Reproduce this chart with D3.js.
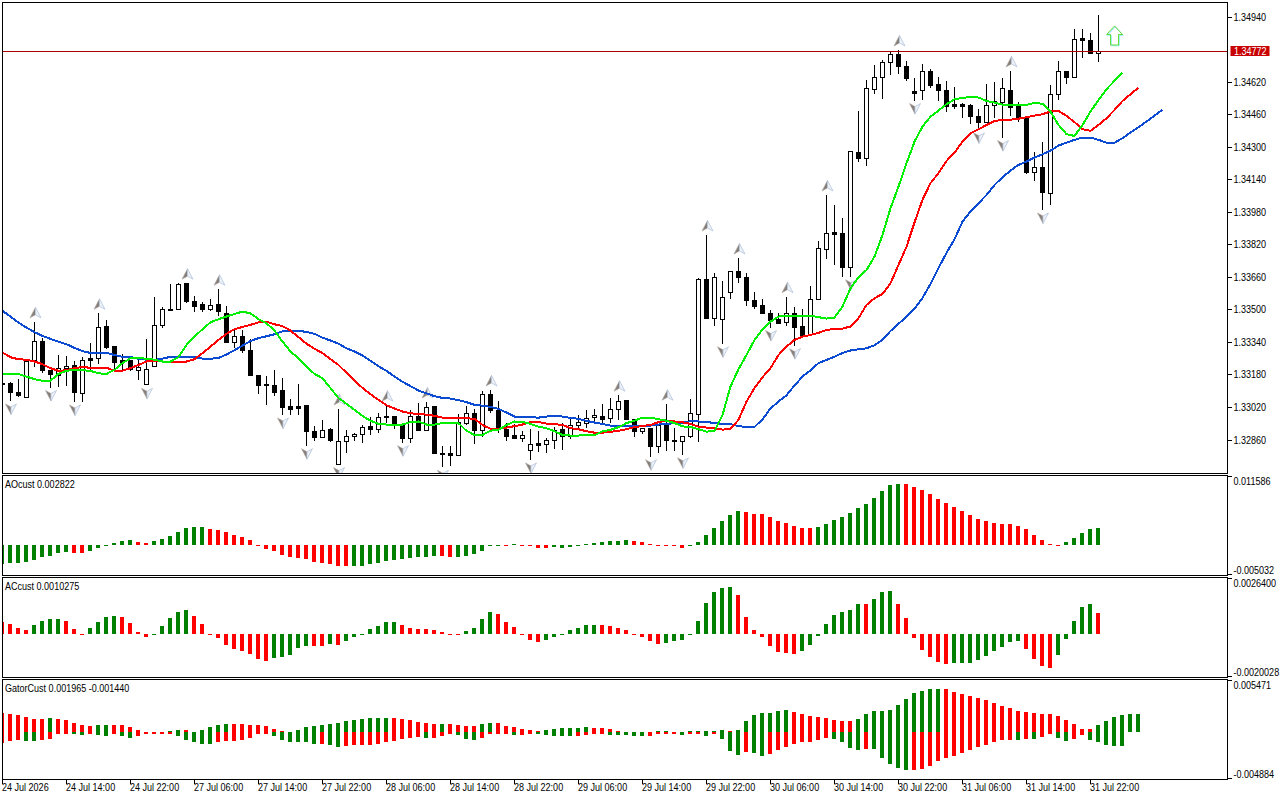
<!DOCTYPE html>
<html>
<head>
<meta charset="utf-8">
<script src="https://cdn.jsdelivr.net/npm/d3@7"></script>
<style>
  html, body { margin: 0; padding: 0; background: #fff; }
  svg { display: block; }
  text { font-family: "Liberation Sans", sans-serif; font-size: 11px; fill: #000; }
  .axis path, .axis line { stroke: #000; shape-rendering: crispEdges; }
</style>
</head>
<body>
<div id="chart"></div>
<script>
// Prices are in points (1 point = 0.00001)
const opens = [133140,133136,133095,133070,133250,133346,133201,133175,133210,133228,
  133090,133259,133260,133416,133321,133249,133249,133203,133132,133221,
  133422,133503,133503,133631,133542,133524,133503,133524,133483,133339,
  133370,133302,133179,133131,133129,133101,133023,133023,133028,132903,
  132872,132910,132739,132854,132879,132889,132924,132913,132974,132974,
  132931,132867,132978,132906,133023,132793,132792,132783,132943,132992,
  132906,133085,133007,132910,132884,132865,132808,132841,132839,132857,
  132913,132877,132931,132941,132972,132978,132965,133011,133052,132962,
  132903,132918,132828,132931,132859,132854,132877,132985,133651,133459,
  133454,133587,133690,133660,133547,133519,133483,133451,133439,133483,
  133416,133377,133552,133798,133878,133877,133708,134275,134244,134583,
  134642,134718,134757,134699,134572,134578,134670,134606,134581,134508,
  134508,134506,134452,134421,134506,134521,134581,134498,134439,134175,
  134201,134072,134558,134673,134642,134836,134826,134762];
const highs = [133150,133147,133159,133254,133441,133361,133205,133278,133272,133249,
  133270,133336,133483,133451,133323,133283,133254,133254,133357,133564,
  133516,133628,133631,133631,133569,133540,133552,133601,133519,133401,
  133401,133356,133180,133174,133205,133165,133061,133136,133028,132929,
  132959,132918,133013,132910,132893,132933,132972,132995,133031,132974,
  132943,133008,133041,133047,133023,132831,132831,132988,133028,133011,
  133101,133106,133052,132943,132939,132906,132915,132905,132869,132926,
  132943,132965,132983,133008,133013,133036,133066,133080,133052,132965,
  132920,132921,132931,133036,132921,132882,133062,133656,133868,133680,
  133642,133690,133755,133680,133588,133554,133500,133483,133565,133514,
  133503,133616,133839,134065,134016,133951,134278,134478,134631,134704,
  134729,134770,134778,134724,134639,134709,134685,134647,134626,134595,
  134516,134513,134488,134611,134621,134639,134675,134521,134442,134275,
  134324,134606,134724,134675,134881,134881,134862,134950];
const lows = [133125,133052,133070,133070,133218,133191,133118,133123,133126,133047,
  133047,133205,133234,133306,133205,133196,133200,133156,133129,133221,
  133413,133495,133503,133536,133491,133491,133495,133470,133336,133311,
  133290,133175,133087,133034,133077,132983,132983,132983,132832,132857,
  132872,132852,132739,132795,132857,132847,132885,132896,132943,132915,
  132847,132847,132906,132906,132790,132726,132733,132783,132934,132842,
  132877,132992,132896,132857,132865,132852,132762,132803,132797,132816,
  132811,132865,132915,132918,132943,132943,132943,132959,132959,132877,
  132890,132778,132798,132808,132808,132787,132869,132852,133459,133422,
  133333,133555,133634,133521,133506,133482,133413,133429,133422,133324,
  133373,133377,133552,133752,133721,133663,133663,134229,134209,134562,
  134537,134655,134660,134627,134529,134532,134590,134527,134475,134488,
  134445,134414,134385,134421,134442,134347,134454,134426,134168,134134,
  133991,134016,134532,134611,134642,134739,134758,134721];
const closes = [133135,133093,133077,133247,133346,133201,133182,133211,133223,133093,
  133252,133250,133415,133316,133241,133241,133205,133216,133208,133424,
  133503,133500,133626,133542,133516,133501,133523,133491,133339,133370,
  133300,133177,133129,133127,133096,133019,133009,133014,132900,132872,
  132908,132860,132854,132879,132889,132923,132913,132972,132970,132941,
  132867,132977,132906,133021,132793,132790,132783,132946,132990,132905,
  133085,133005,132910,132877,132867,132884,132839,132832,132860,132906,
  132877,132931,132944,132967,132982,132959,133011,133051,132959,132901,
  132918,132828,132929,132857,132852,132879,132992,133647,133459,133660,
  133562,133690,133659,133545,133516,133482,133447,133432,133482,133413,
  133373,133552,133803,133877,133872,133708,134278,134244,134590,134644,
  134718,134757,134696,134637,134563,134673,134603,134578,134499,134499,
  134499,134450,134421,134506,134524,134590,134496,134440,134173,134201,
  134076,134560,134673,134642,134831,134824,134760,134772];

// Alligator lines, each shifted forward so they run past the last candle
const jaw = [133495,133467,133437,133413,133390,133372,133357,133344,133331,133313,
  133297,133288,133288,133288,133278,133269,133269,133259,133255,133254,
  133260,133269,133269,133269,133267,133260,133259,133264,133280,133302,
  133324,133347,133361,133370,133380,133395,133396,133396,133392,133382,
  133363,133349,133334,133311,133295,133275,133249,133223,133200,133172,
  133146,133125,133103,133090,133075,133067,133064,133056,133046,133033,
  133029,133023,133013,132995,132975,132975,132972,132970,132975,132980,
  132975,132969,132964,132954,132946,132939,132931,132929,132929,132928,
  132928,132931,132936,132939,132943,132946,132952,132951,132948,132944,
  132939,132938,132928,132924,132924,132962,133015,133049,133080,133128,
  133172,133203,133238,133254,133270,133288,133300,133306,133311,133326,
  133352,133396,133431,133467,133505,133559,133628,133706,133780,133847,
  133934,133983,134024,134065,134114,134152,134185,134213,134229,134249,
  134265,134283,134308,134322,134336,134347,134347,134336,134322,134322,
  134344,134372,134398,134426,134455,134485];
const teeth = [133290,133267,133257,133255,133246,133233,133213,133200,133203,133213,
  133219,133215,133215,133215,133201,133201,133213,133229,133246,133249,
  133246,133246,133246,133246,133257,133287,133319,133352,133382,133405,
  133416,133426,133439,133441,133429,133420,133398,133366,133333,133309,
  133287,133257,133229,133190,133152,133116,133085,133057,133031,133015,
  133000,132992,132987,132985,132979,132970,132970,132969,132967,132964,
  132934,132915,132915,132921,132928,132936,132949,132948,132941,132938,
  132934,132918,132913,132903,132896,132896,132900,132905,132913,132923,
  132929,132934,132948,132955,132951,132947,132939,132926,132921,132918,
  132911,132915,132959,133049,133115,133169,133213,133278,133319,133352,
  133368,133377,133387,133401,133406,133408,133418,133459,133524,133557,
  133578,133631,133721,133810,133930,134041,134123,134172,134232,134273,
  134327,134369,134388,134409,134429,134434,134435,134440,134447,134455,
  134462,134475,134478,134454,134423,134388,134380,134409,134442,134483,
  134527,134560,134593];
const lips = [133184,133185,133184,133172,133159,133151,133152,133185,133201,133203,
  133203,133200,133188,133185,133205,133238,133262,133262,133260,133255,
  133246,133246,133267,133328,133368,133405,133439,133454,133467,133480,
  133491,133483,133454,133434,133398,133344,133295,133262,133221,133185,
  133164,133115,133066,133038,133008,132978,132955,132939,132936,132936,
  132936,132948,132951,132936,132936,132944,132946,132943,132905,132885,
  132885,132906,132910,132934,132951,132949,132939,132926,132918,132903,
  132885,132882,132882,132885,132884,132903,132910,132923,132943,132955,
  132970,132970,132962,132955,132943,132927,132924,132913,132901,132905,
  132983,133123,133208,133278,133352,133405,133442,133467,133472,133472,
  133472,133472,133464,133457,133462,133516,133606,133660,133696,133762,
  133868,134000,134106,134221,134327,134401,134450,134480,134511,134536,
  134542,134547,134544,134527,134519,134509,134508,134508,134508,134518,
  134513,134475,134409,134364,134355,134409,134475,134532,134585,134626,
  134667];

const upFractals = [4,12,23,27,42,48,53,61,77,83,88,92,98,103,112,126];
const downFractals = [1,6,9,18,35,38,42,50,55,66,81,85,90,96,99,106,114,122,125,130];

const lastPrice = 1.34772;
const signalBar = 139;
const signalPrice = 1.34849;

const priceTicks = [1.34940,1.34620,1.34460,1.34300,1.34140,1.33980,1.33820,1.33660,1.33500,1.33340,1.33180,1.33020,1.32860];

// AO histogram
const aoValues = [-.00319,-.00302,-.00302,-.00285,-.00252,-.00201,-.00185,-.00134,-.00118,-.00134,
  -.00134,-.00101,-.00050,-.00012,.00034,.00067,.00084,.00050,.00034,.00067,
  .00101,.00151,.00218,.00285,.00302,.00302,.00269,.00252,.00218,.00168,
  .00134,.00084,-.00008,-.00067,-.00101,-.00168,-.00201,-.00218,-.00235,-.00285,
  -.00302,-.00319,-.00353,-.00353,-.00353,-.00353,-.00319,-.00302,-.00269,-.00252,
  -.00235,-.00218,-.00201,-.00201,-.00185,-.00185,-.00201,-.00201,-.00185,-.00151,
  -.00101,-.00012,-.00008,-.00008,.00008,-.00005,-.00017,-.00050,-.00050,-.00034,
  -.00050,-.00034,-.00025,.00008,.00034,.00050,.00067,.00067,.00084,.00067,
  .00050,.00008,.00005,-.00005,-.00025,-.00050,-.00008,.00050,.00168,.00285,
  .00403,.00504,.00571,.00554,.00520,.00520,.00470,.00403,.00369,.00319,
  .00285,.00285,.00302,.00353,.00420,.00470,.00537,.00621,.00688,.00789,
  .00906,.01007,.01024,.01024,.00974,.00923,.00856,.00772,.00705,.00638,
  .00571,.00504,.00436,.00403,.00369,.00353,.00353,.00319,.00269,.00168,
  .00084,.00012,-.00008,.00050,.00118,.00201,.00269,.002822];
const aoColors = ["gggggggggr","rggggggrrg","ggggggrrrr","rrrrrrrrrr","rrrrgggggg","gggggrrggg","gggrgrrrrg",
  "gggggggggr","rrrrrrgggg","gggrrrrrrr","rrgggggggg","gggrrrrrrr","rrrrrrrrrr","rrrggggg"].join("");

// AC histogram
const acValues = [.00056,.00047,.00028,.00019,.00042,.00061,.00070,.00070,.00061,.00023,
  .00003,.00028,.00056,.00080,.00084,.00080,.00052,.00009,-.00014,.00002,
  .00038,.00075,.00103,.00113,.00084,.00047,.00003,-.00019,-.00052,-.00070,
  -.00080,-.00094,-.00117,-.00127,-.00113,-.00108,-.00098,-.00066,-.00056,-.00056,
  -.00056,-.00047,-.00052,-.00033,-.00014,-.00005,.00023,.00038,.00056,.00056,
  .00042,.00028,.00023,.00023,.00019,.00009,.00001,.00001,.00014,.00028,
  .00070,.00103,.00094,.00056,.00033,.00002,-.00028,-.00038,-.00028,-.00014,
  -.00005,.00019,.00028,.00042,.00042,.00042,.00038,.00028,.00019,-.00003,
  -.00014,-.00033,-.00047,-.00042,-.00033,-.00028,-.00003,.00061,.00150,.00202,
  .00220,.00225,.00188,.00080,.00019,-.00014,-.00056,-.00084,-.00089,-.00094,
  -.00080,-.00052,-.00009,.00047,.00089,.00103,.00117,.00145,.00141,.00169,
  .00202,.00206,.00145,.00075,-.00019,-.00075,-.00108,-.00131,-.00141,-.00136,
  -.00136,-.00136,-.00122,-.00103,-.00080,-.00061,-.00038,-.00033,-.00070,-.00117,
  -.00150,-.00159,-.00098,-.00023,.00061,.00131,.00145,.0010275];
const acColors = ["rrrrggggrr","rggggrrrrg","ggggrrrrrr","rrrrgggggr","rgrggggggg","rrrrrrrrgg","ggrrrrrrgg",
  "gggggrrrrr","rrrggggggg","ggrrrrrrrr","ggggggggrg","ggrrrrrrrg","ggggggggrr","rrgggggr"].join("");

// Gator histogram, upper and lower sides
const gatorUp = [.00206,.00195,.00185,.00164,.00143,.00143,.00153,.00143,.00133,.00101,
  .00080,.00070,.00080,.00080,.00080,.00080,.00059,.00028,.00007,.00007,
  .00007,.00017,.00028,.00028,.00007,.00028,.00059,.00080,.00091,.00091,
  .00091,.00080,.00080,.00070,.00038,.00017,.00001,.00028,.00059,.00070,
  .00080,.00091,.00101,.00122,.00133,.00143,.00153,.00153,.00153,.00153,
  .00143,.00133,.00112,.00101,.00091,.00091,.00091,.00080,.00070,.00070,
  .00091,.00101,.00101,.00070,.00059,.00038,.00028,.00017,.00028,.00038,
  .00049,.00049,.00049,.00059,.00049,.00049,.00038,.00017,.00007,.00007,
  .00007,.00007,.00017,.00017,.00007,.00001,.00017,.00017,.00017,.00017,
  .00028,.00017,.00028,.00122,.00185,.00206,.00206,.00227,.00237,.00216,
  .00195,.00174,.00164,.00153,.00133,.00122,.00122,.00143,.00195,.00227,
  .00227,.00237,.00289,.00352,.00415,.00436,.00457,.00457,.00457,.00425,
  .00404,.00384,.00363,.00342,.00310,.00279,.00258,.00227,.00216,.00206,
  .00195,.00195,.00174,.00133,.00091,.00038,.00038,.00080,.00122,.00164,
  .00185,.00195,.001965];
const gatorUpColors = ["rrrrrrgrrr","rrggrrrrrr","gggrrggggr","rrrrrrgggg","gggggggggr","rrrrrgrrrr","ggrrrrrrgg",
  "ggggrrrrrg","grggrggggg","grgggggggr","rrrrrrrggg","ggggggggrr","rrrrrrrrrr","rrrrrrrggg","ggg"].join("");
const gatorDown = [-.00115,-.00087,-.00077,-.00087,-.00087,-.00077,-.00066,-.00014,-.00014,-.00014,
  -.00024,-.00014,-.00024,-.00035,-.00014,-.00035,-.00056,-.00035,-.00014,-.00014,
  -.00014,-.00014,-.00035,-.00077,-.00108,-.00119,-.00119,-.00108,-.00087,-.00087,
  -.00077,-.00056,-.00014,-.00014,-.00035,-.00077,-.00098,-.00098,-.00108,-.00129,
  -.00119,-.00139,-.00160,-.00150,-.00139,-.00139,-.00139,-.00129,-.00108,-.00087,
  -.00066,-.00056,-.00045,-.00056,-.00056,-.00035,-.00014,-.00024,-.00066,-.00077,
  -.00056,-.00014,-.00014,-.00014,-.00024,-.00024,-.00014,-.00014,-.00024,-.00035,
  -.00035,-.00035,-.00035,-.00024,-.00014,-.00014,-.00024,-.00024,-.00024,-.00035,
  -.00035,-.00035,-.00014,-.00014,-.00014,-.00024,-.00014,-.00014,-.00035,-.00014,
  -.00066,-.00202,-.00244,-.00213,-.00223,-.00255,-.00234,-.00192,-.00160,-.00129,
  -.00108,-.00098,-.00077,-.00056,-.00066,-.00108,-.00171,-.00192,-.00181,-.00181,
  -.00275,-.00338,-.00380,-.00401,-.00401,-.00391,-.00359,-.00307,-.00275,-.00255,
  -.00223,-.00192,-.00160,-.00139,-.00098,-.00077,-.00077,-.00077,-.00066,-.00066,
  -.00045,-.00014,-.00056,-.00087,-.00066,-.00024,-.00077,-.00108,-.00139,-.00150,
  -.00144];
const gatorDownColors = ["rrrggrrrrg","grggrggrrr","rrgggggrrr","rrrrgggggg","rggrrrrrrr","rrrgrrrggg","rrrrgrrggg",
  "ggrrrrgggg","grrrrgrrgr","gggrggrrrr","rrrrggggrg","ggggrrrrrr","rrrrrrrgrg","rrggrrgggg","g"].join("");

const timeBars = [0,8,16,24,32,40,48,56,64,72,80,88,96,104,112,120,128,136];
const timeLabels = ["24 Jul 2026","24 Jul 14:00","24 Jul 22:00","27 Jul 06:00","27 Jul 14:00","27 Jul 22:00",
  "28 Jul 06:00","28 Jul 14:00","28 Jul 22:00","29 Jul 06:00","29 Jul 14:00","29 Jul 22:00",
  "30 Jul 06:00","30 Jul 14:00","30 Jul 22:00","31 Jul 06:00","31 Jul 14:00","31 Jul 22:00"];

const paneLeft = 2.5, paneRight = 1227.5;
const barColor = {g: "#008000", r: "#ff0000"};

let svg = d3.select("#chart")
  .append("svg")
    .attr("width", 1280)
    .attr("height", 800);

// one bar every 8 pixels
let x = d3.scaleLinear().domain([0, 153]).range([2.5, 1226.5]);
let y = d3.scaleLinear().domain([1.32860, 1.34940]).range([440, 17]);

function addClip(id, top, bottom) {
  svg.append("clipPath").attr("id", id)
    .append("rect")
      .attr("x", paneLeft + 0.5)
      .attr("y", top)
      .attr("width", paneRight - paneLeft - 1)
      .attr("height", bottom - top);
}

// Main pane
addClip("clip-main", 3, 473);
let main = svg.append("g").attr("clip-path", "url(#clip-main)");

let candles = main.selectAll("g.candle")
  .data(opens.map((o, i) => i))
  .enter()
  .append("g")
    .attr("class", "candle")
    .style("shape-rendering", "crispEdges");

candles.append("line")
  .attr("x1", (i) => x(i))
  .attr("x2", (i) => x(i))
  .attr("y1", (i) => y(highs[i] / 1e5))
  .attr("y2", (i) => y(lows[i] / 1e5))
  .attr("stroke", "#000");

candles.append("rect")
  .attr("x", (i) => x(i) - 2)
  .attr("width", 4)
  .attr("y", (i) => y(Math.max(opens[i], closes[i]) / 1e5))
  .attr("height", (i) => Math.max(1, Math.abs(y(opens[i] / 1e5) - y(closes[i] / 1e5))))
  .attr("fill", (i) => closes[i] >= opens[i] ? "#fff" : "#000")
  .attr("stroke", "#000");

// Fractal markers
function marker(sel, dir) {
  // dir -1 points up, +1 points down
  sel.append("path")
    .attr("d", `M0,${5.5 * dir} L-5.5,${-5 * dir} L0,${-2 * dir} Z`)
    .attr("fill", "#857d78")
    .attr("stroke", "#b0a9a4")
    .attr("stroke-width", 0.6);
  sel.append("path")
    .attr("d", `M0,${5.5 * dir} L5.5,${-5 * dir} L0,${-2 * dir} Z`)
    .attr("fill", "#eef2f7")
    .attr("stroke", "#b4c4dc")
    .attr("stroke-width", 0.8);
}

main.selectAll("g.up-fractal")
  .data(upFractals)
  .enter()
  .append("g")
    .attr("class", "up-fractal")
    .attr("transform", (i) => "translate(" + (x(i) + 1) + "," + (y(highs[i] / 1e5) - 9) + ")")
    .call(marker, -1);

main.selectAll("g.down-fractal")
  .data(downFractals)
  .enter()
  .append("g")
    .attr("class", "down-fractal")
    .attr("transform", (i) => "translate(" + (x(i) + 0.5) + "," + (y(lows[i] / 1e5) + 8) + ")")
    .call(marker, 1);

// Alligator
let line = d3.line()
  .x((d, i) => x(i))
  .y((d) => y(d / 1e5));

[[jaw, "#0a4bd2"], [teeth, "#ff0000"], [lips, "#00ee00"]].forEach(([series, color]) => {
  main.append("path")
    .attr("d", line(series))
    .attr("fill", "none")
    .attr("stroke", color)
    .attr("stroke-width", 2)
    .style("shape-rendering", "crispEdges");
});

// Last price line
main.append("line")
  .attr("x1", paneLeft)
  .attr("x2", paneRight)
  .attr("y1", Math.round(y(lastPrice)) + 0.5)
  .attr("y2", Math.round(y(lastPrice)) + 0.5)
  .attr("stroke", "#a80000");

// Buy signal arrow
let sigX = x(signalBar), sigY = y(signalPrice);
[["#7fe8ff", 0.7, 0.7], ["#66dd33", 0, 0]].forEach(([color, dx, dy]) => {
  main.append("path")
    .attr("transform", "translate(" + (sigX + dx) + "," + (sigY + dy) + ")")
    .attr("d", "M0,-9.5 L8,-1 L4,-1 L4,9.5 L-4,9.5 L-4,-1 L-8,-1 Z")
    .attr("fill", "none")
    .attr("stroke", color);
});

// Main price axis
let priceAxis = svg.append("g")
  .attr("class", "axis")
  .attr("transform", "translate(" + paneRight + ",0)")
  .call(d3.axisRight(y).tickValues(priceTicks).tickFormat(d3.format(".5f")).tickSize(4).tickSizeOuter(0).offset(0));
priceAxis.select(".domain").remove();
priceAxis.selectAll("text").attr("x", 6);

// Last price label
svg.append("rect")
  .attr("x", 1230.5)
  .attr("y", Math.round(y(lastPrice)) - 5)
  .attr("width", 39)
  .attr("height", 10)
  .attr("fill", "#c80000");
svg.append("text")
  .attr("x", 1234)
  .attr("y", y(lastPrice))
  .attr("dy", "0.36em")
  .style("fill", "#fff")
  .text(d3.format(".5f")(lastPrice));

// Histogram panes
function drawPane(id, top, bottom, domain, labels, title, series) {
  let yPane = d3.scaleLinear().domain(domain).range([bottom - 1, top + 1]);
  addClip(id, top + 0.5, bottom - 0.5);
  let g = svg.append("g").attr("clip-path", "url(#" + id + ")");

  series.forEach(([values, colors]) => {
    g.selectAll(null)
      .data(values)
      .enter()
      .append("rect")
        .attr("x", (d, i) => x(i) - 2.5)
        .attr("width", 4)
        .attr("y", (d) => Math.min(yPane(d), yPane(0)))
        .attr("height", (d) => Math.max(1, Math.abs(yPane(d) - yPane(0))))
        .attr("fill", (d, i) => barColor[colors[i]])
        .style("shape-rendering", "crispEdges");
  });

  let axis = svg.append("g")
    .attr("class", "axis")
    .attr("transform", "translate(" + paneRight + ",0)")
    .call(d3.axisRight(yPane).tickValues(domain).tickFormat((d, i) => labels[i]).tickSize(4).tickSizeOuter(0).offset(0));
  axis.select(".domain").remove();
  axis.selectAll("text")
    .attr("x", 6)
    .attr("y", (d, i) => i == 0 ? -4.5 : 4.5);

  svg.append("text")
    .attr("x", 5)
    .attr("y", top + 9)
    .attr("dy", "0.36em")
    .text(title);
}

drawPane("clip-ao", 475.5, 575.5, [-0.005032, 0.011586], ["-0.005032", "0.011586"],
  "AOcust 0.002822", [[aoValues, aoColors]]);
drawPane("clip-ac", 577.5, 677.5, [-0.0020028, 0.0026400], ["-0.0020028", "0.0026400"],
  "ACcust 0.0010275", [[acValues, acColors]]);
drawPane("clip-gator", 679.5, 779.5, [-0.004884, 0.005471], ["-0.004884", "0.005471"],
  "GatorCust 0.001965 -0.001440", [[gatorUp, gatorUpColors], [gatorDown, gatorDownColors]]);

// Pane frames
[[2.5, 473.5], [475.5, 575.5], [577.5, 677.5], [679.5, 779.5]].forEach(([top, bottom]) => {
  svg.append("rect")
    .attr("x", paneLeft)
    .attr("y", top)
    .attr("width", paneRight - paneLeft)
    .attr("height", bottom - top)
    .attr("fill", "none")
    .attr("stroke", "#000");
});

// Time axis
let timeAxis = svg.append("g")
  .attr("class", "axis")
  .attr("transform", "translate(0,779.5)")
  .call(d3.axisBottom(x).tickValues(timeBars).tickFormat((d, i) => timeLabels[i]).tickSize(4).tickSizeOuter(0).offset(0));
timeAxis.select(".domain").remove();
timeAxis.selectAll("text")
  .attr("text-anchor", "start")
  .attr("x", -0.5)
  .attr("y", 4)
  .attr("dy", "0.71em");

// Terminal font is narrower than Liberation Sans, squeeze all labels
svg.selectAll("text").each(function() {
  d3.select(this)
    .attr("textLength", this.getComputedTextLength() * 0.82)
    .attr("lengthAdjust", "spacingAndGlyphs");
});
</script>
</body>
</html>
